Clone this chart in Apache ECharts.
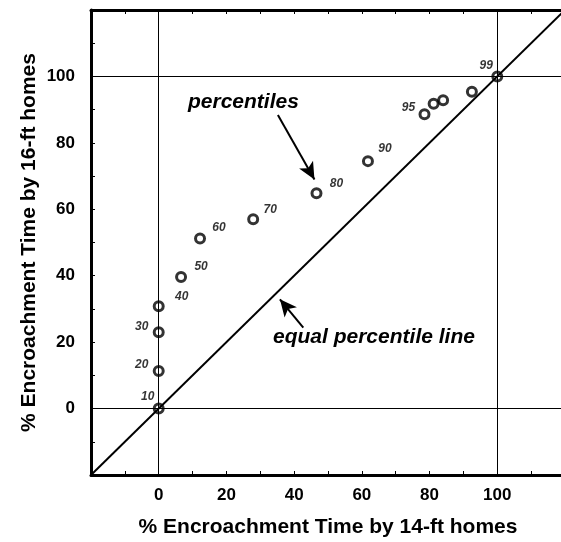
<!DOCTYPE html>
<html>
<head>
<meta charset="utf-8">
<script src="https://cdn.jsdelivr.net/npm/echarts@6/dist/echarts.min.js"></script>
<style>
  html, body { margin: 0; padding: 0; background: #fff; }
  #graphs { width: 561px; height: 542px; }
</style>
</head>
<body>
<div id="graphs"></div>
<script>
// percentile points: x = 14-ft homes, y = 16-ft homes (% encroachment time)
var pctNames = ['10', '20', '30', '40', '50', '60', '70', '80', '90', '95', '', '', '', '99'];
var x14 = [0, 0, 0, 0, 6.6, 12.2, 27.9, 46.6, 61.8, 78.5, 81.2, 84.0, 92.5, 100];
var y16 = [0, 11.3, 23.0, 30.8, 39.6, 51.2, 57.0, 64.8, 74.5, 88.6, 91.8, 92.8, 95.4, 100];
var equalLine = [[-20, -20], [120, 120]];
var refX = [0, 100];
var refY = [0, 100];
var xTicks = [0, 20, 40, 60, 80, 100];
var yTicks = [0, 20, 40, 60, 80, 100];

var myChart = echarts.init(document.getElementById('graphs'));

var FONT = '"Liberation Sans", Arial, sans-serif';

// where each percentile label sits relative to its marker
var labelOffset = {
  '10': [-11, -12], '20': [-17, -6], '30': [-17, -5], '40': [23, -10],
  '50': [20, -10], '60': [19, -11], '70': [17, -10], '80': [20, -10],
  '90': [17, -12], '95': [-16, -7], '99': [-11, -11]
};

var points = x14.map(function (x, i) {
  var name = pctNames[i];
  return {
    value: [x, y16[i]],
    name: name,
    label: {
      show: name !== '',
      position: 'inside',
      offset: labelOffset[name] || [0, 0]
    }
  };
});

var markLines = [];
refX.forEach(function (v) { markLines.push({ xAxis: v }); });
refY.forEach(function (v) { markLines.push({ yAxis: v }); });

function tickFmt(list) {
  return function (v) { return list.indexOf(v) >= 0 ? String(v) : ''; };
}

var axisCommon = {
  type: 'value',
  min: -20,
  max: 120,
  interval: 20,
  splitLine: { show: false },
  axisLine: { show: true, onZero: false, lineStyle: { color: '#000', width: 3 } },
  axisTick: { show: true, inside: true, length: 4, lineStyle: { color: '#000', width: 1 } },
  minorTick: { show: true, splitNumber: 2, length: 4, lineStyle: { color: '#000', width: 1 } },
  axisLabel: { color: '#000', fontWeight: 'bold', fontSize: 17, fontFamily: FONT }
};

var nameStyle = { color: '#000', fontWeight: 'bold', fontSize: 21, fontFamily: FONT };

var option = {
  animation: false,
  backgroundColor: '#fff',
  grid: { left: 91, right: -4, top: 10, bottom: 67, outerBoundsMode: 'none', containLabel: false },
  xAxis: [
    Object.assign({}, axisCommon, {
      position: 'bottom',
      name: '% Encroachment Time by 14-ft homes',
      nameLocation: 'middle',
      nameGap: 42,
      nameMoveOverlap: false,
      nameTextStyle: nameStyle,
      axisLabel: Object.assign({}, axisCommon.axisLabel, { margin: 12, formatter: tickFmt(xTicks) })
    }),
    Object.assign({}, axisCommon, {
      position: 'top',
      axisLabel: { show: false }
    })
  ],
  yAxis: Object.assign({}, axisCommon, {
    name: '% Encroachment Time by 16-ft homes',
    nameLocation: 'middle',
    nameGap: 51,
    nameMoveOverlap: false,
    nameTextStyle: nameStyle,
    axisLabel: Object.assign({}, axisCommon.axisLabel, { margin: 16, formatter: tickFmt(yTicks) })
  }),
  graphic: [
    {
      type: 'text', left: 188, top: 92,
      style: { text: 'percentiles', font: 'italic bold 21px ' + FONT, fill: '#000' }
    },
    {
      type: 'text', left: 273, top: 327,
      style: { text: 'equal percentile line', font: 'italic bold 21px ' + FONT, fill: '#000' }
    }
  ],
  series: [
    {
      type: 'line',
      data: equalLine,
      symbol: 'none',
      lineStyle: { color: '#000', width: 2 },
      silent: true,
      markLine: {
        silent: true,
        symbol: 'none',
        label: { show: false },
        lineStyle: { color: '#000', width: 1, type: 'solid' },
        data: markLines
      }
    },
    {
      type: 'line',
      data: [],
      markLine: {
        silent: true,
        symbol: ['none', 'arrow'],
        symbolSize: [12, 17],
        label: { show: false },
        lineStyle: { color: '#000', width: 2, type: 'solid' },
        data: [
          [{ coord: [35.2, 88.4] }, { coord: [46.0, 69.0] }],
          [{ coord: [42.7, 24.4] }, { coord: [35.8, 32.9] }]
        ]
      }
    },
    {
      type: 'scatter',
      data: points,
      symbol: 'circle',
      symbolSize: 9,
      itemStyle: { color: 'rgba(255,255,255,0)', borderColor: '#000', borderWidth: 3 },
      label: {
        formatter: '{b}',
        color: '#000',
        fontSize: 12,
        fontStyle: 'italic',
        fontWeight: 'bold',
        fontFamily: FONT
      },
      z: 5
    }
  ]
};

myChart.setOption(option);
</script>
</body>
</html>
